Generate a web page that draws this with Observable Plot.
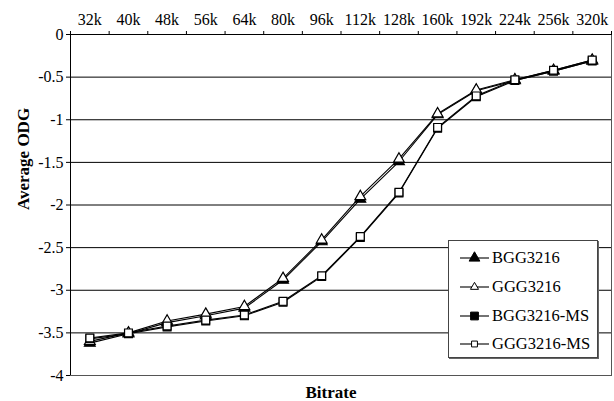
<!DOCTYPE html>
<html>
<head>
<meta charset="utf-8">
<script src="https://cdn.jsdelivr.net/npm/d3@7"></script>
<script src="https://cdn.jsdelivr.net/npm/@observablehq/plot@0.6"></script>
<style>
  html, body { margin: 0; padding: 0; background: #fff; }
  #wrap { position: relative; width: 614px; height: 401px; font-family: "Liberation Serif", "Times New Roman", serif; }
  #wrap svg, #wrap svg text, #wrap svg g { font-family: "Liberation Serif", "Times New Roman", serif !important; }
  #legend { position: absolute; left: 448px; top: 240px; width: 148px; height: 116px; border: 1px solid #444; background: #fff; box-shadow: 1px 1px 0 #666; }
  .row { position: absolute; left: 0; height: 20px; display: flex; align-items: center; font-size: 16.5px; color: #000; }
  .row svg { display: block; margin-left: 11px; margin-right: 3px; }
</style>
</head>
<body>
<div id="wrap"></div>
<script>
const bitrates = ["32k","40k","48k","56k","64k","80k","96k","112k","128k","160k","192k","224k","256k","320k"];
const seriesNames = ["BGG3216","GGG3216","BGG3216-MS","GGG3216-MS"];
const bgg   = [-3.62,-3.51,-3.38,-3.30,-3.21,-2.88,-2.43,-1.93,-1.49,-0.94,-0.66,-0.54,-0.43,-0.31];
const ggg   = [-3.60,-3.50,-3.36,-3.28,-3.19,-2.86,-2.41,-1.90,-1.46,-0.93,-0.65,-0.53,-0.42,-0.30];
const bggMs = [-3.57,-3.51,-3.43,-3.36,-3.30,-3.14,-2.84,-2.38,-1.86,-1.10,-0.73,-0.54,-0.43,-0.31];
const gggMs = [-3.56,-3.50,-3.42,-3.35,-3.29,-3.13,-2.83,-2.37,-1.85,-1.09,-0.72,-0.53,-0.42,-0.30];
const yTicks = [-4,-3.5,-3,-2.5,-2,-1.5,-1,-0.5,0];

const seriesValues = [bgg, ggg, bggMs, gggMs];
const symbols = ["triangle","triangle","square","square"];
const fills = ["black","white","black","white"];
const radii = [4,4,4.4,4.4];

const data = [];
seriesValues.forEach((vals, s) => vals.forEach((v, i) => data.push({series: seriesNames[s], s, i, v})));

const serif = "'Liberation Serif', 'Times New Roman', serif";
const marks = [
  Plot.gridY(yTicks, {stroke: "black", strokeOpacity: 1, strokeWidth: 1}),
  Plot.frame({stroke: "#555"}),
  Plot.ruleX([-0.5], {stroke: "black"}),
  Plot.ruleY([0], {stroke: "black"}),
  Plot.axisX({anchor: "top", ticks: d3.range(15).map(k => k - 0.5), tickSize: 4, tickFormat: () => "", label: null}),
  Plot.axisX({anchor: "top", ticks: d3.range(bitrates.length), tickSize: 0, tickPadding: 10, tickFormat: k => bitrates[k], label: null, fontSize: 16, fontFamily: serif}),
  Plot.axisY({ticks: yTicks, tickSize: 4, tickPadding: 3, tickFormat: d => String(d), label: null, fontSize: 16, fontFamily: serif}),
];
seriesNames.forEach((name, s) => {
  const d = data.filter(r => r.s === s);
  marks.push(Plot.line(d, {x: "i", y: "v", stroke: "black", strokeWidth: 1.1}));
});
seriesNames.forEach((name, s) => {
  const d = data.filter(r => r.s === s);
  marks.push(Plot.dot(d, {x: "i", y: "v", symbol: () => symbols[s], r: radii[s], fill: fills[s], stroke: "black", strokeWidth: 1.2}));
});
marks.push(Plot.text(["Bitrate"], {frameAnchor: "bottom", dy: 17, dx: -10, text: d => d, fontWeight: "bold", fontSize: 17, fontFamily: serif, lineAnchor: "middle"}));
marks.push(Plot.text(["Average ODG"], {frameAnchor: "left", dx: -47, dy: 5, rotate: -90, text: d => d, fontWeight: "bold", fontSize: 17, fontFamily: serif, lineAnchor: "middle"}));

const chart = Plot.plot({
  width: 614,
  height: 401,
  marginLeft: 70,
  marginRight: 3,
  marginTop: 34,
  marginBottom: 26,
  style: {fontFamily: serif, fontSize: "16px", color: "black", background: "white"},
  x: {type: "linear", domain: [-0.5, bitrates.length - 0.5], axis: null},
  y: {domain: [-4, 0], axis: null},
  marks
});
const wrap = document.getElementById("wrap");
wrap.appendChild(chart);

// legend
const legend = document.createElement("div");
legend.id = "legend";
const rowTops = [7, 36, 65, 93];
seriesNames.forEach((name, s) => {
  const row = document.createElement("div");
  row.className = "row";
  row.style.top = rowTops[s] + "px";
  const ns = "http://www.w3.org/2000/svg";
  const svg = document.createElementNS(ns, "svg");
  svg.setAttribute("width", 29); svg.setAttribute("height", 20);
  const line = document.createElementNS(ns, "line");
  line.setAttribute("x1", 0); line.setAttribute("x2", 29); line.setAttribute("y1", 10); line.setAttribute("y2", 10);
  line.setAttribute("stroke", "black"); line.setAttribute("stroke-width", 1.1);
  svg.appendChild(line);
  const path = document.createElementNS(ns, "path");
  const sym = symbols[s] === "triangle" ? d3.symbolTriangle : d3.symbolSquare;
  const big = fills[s] === "black";
  const size = Math.PI * Math.pow(big ? radii[s] : radii[s] * 0.75, 2);
  path.setAttribute("d", d3.symbol(sym, size)());
  path.setAttribute("transform", "translate(14.5,10)");
  path.setAttribute("fill", fills[s]); path.setAttribute("stroke", "black"); path.setAttribute("stroke-width", 1);
  svg.appendChild(path);
  row.appendChild(svg);
  const span = document.createElement("span");
  span.textContent = name;
  row.appendChild(span);
  legend.appendChild(row);
});
wrap.appendChild(legend);
</script>
</body>
</html>
